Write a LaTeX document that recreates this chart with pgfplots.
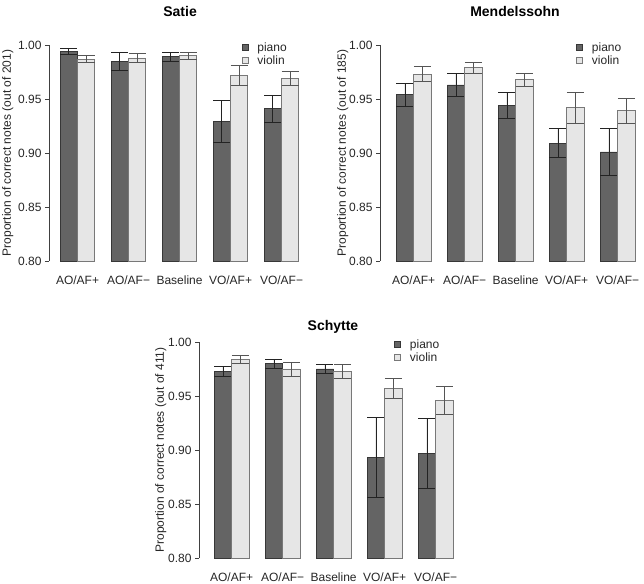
\documentclass[border=0pt]{standalone}
\usepackage{pgfplots}
\pgfplotsset{compat=1.18}
\usepackage{fontspec}
\setmainfont{Liberation Sans}
\definecolor{pianofill}{RGB}{100,100,100}
\definecolor{pianodraw}{RGB}{55,55,55}
\definecolor{violinfill}{RGB}{230,230,230}
\definecolor{violindraw}{RGB}{120,120,120}
\definecolor{pianoerr}{RGB}{35,35,35}
\definecolor{violinerr}{RGB}{85,85,85}
\pgfplotsset{
  panel/.style={
    scale only axis, height=216pt, ymin=0.8, ymax=1.0, xmax=4.45,
    ybar=0pt, bar width=0.34,
    axis y line=left, axis x line=bottom,
    axis line style={-},
    x axis line style={draw=none},
    y axis line style={draw=black!75},
    xtick={0,1,2,3,4},
    xticklabels={AO/AF+,AO/AF−,Baseline,VO/AF+,VO/AF−},
    xtick style={draw=none},
    xticklabel style={yshift=-7pt},
    ytick={0.80,0.85,0.90,0.95,1.00},
    yticklabel style={/pgf/number format/.cd,fixed,fixed zerofill,precision=2},
    /pgf/number format/assume math mode=true,
    tick align=outside, major tick length=4pt,
    ytick style={draw=black!75},
    tick label style={font=\fontsize{12}{14}\selectfont, text=black!85},
    label style={font=\fontsize{12}{14}\selectfont, text=black!85},
    title style={font=\fontsize{14}{16}\selectfont\bfseries, anchor=center},
    legend style={draw=none, fill=none, inner sep=0pt, anchor=north west,
      font=\fontsize{12}{13}\selectfont, text=black!85, row sep=-1pt,
      legend cell align=left},
    legend image code/.code={\draw[#1] (0pt,-2.5pt) rectangle (6pt,3.5pt); \path (0pt,0pt) (13pt,0pt);},
    clip=false,
  },
  pianobar/.style={fill=pianofill, draw=pianodraw, line width=0.8pt,
    error bars/.cd, y dir=both, y explicit,
    error bar style={draw=pianoerr, line width=0.8pt},
    error mark options={rotate=90, mark size=8.5pt, draw=pianoerr, line width=0.8pt}},
  violinbar/.style={fill=violinfill, draw=violindraw, line width=0.8pt,
    error bars/.cd, y dir=both, y explicit,
    error bar style={draw=violinerr, line width=0.8pt},
    error mark options={rotate=90, mark size=8.5pt, draw=violinerr, line width=0.8pt}},
}
\begin{document}
\begin{tikzpicture}[x=1pt,y=1pt]
\useasboundingbox (0,0) rectangle (644,583);
% Satie
\begin{axis}[panel, at={(49pt,322pt)}, anchor=south west,
  width=255.5pt, xmin=-0.56,
  title={Satie}, title style={at={(0.513,1.125)}},
  ylabel={Proportion of correct notes (out of 201)}, ylabel shift=-2pt,
  legend style={at={(0.753,1.02)}}]
\addplot[pianobar] coordinates {
  (0,0.994) +- (0,0.003)
  (1,0.985) +- (0,0.0085)
  (2,0.989) +- (0,0.004)
  (3,0.929) +- (0,0.0195)
  (4,0.941) +- (0,0.0125)};
\addplot[violinbar] coordinates {
  (0,0.987) +- (0,0.0035)
  (1,0.988) +- (0,0.004)
  (2,0.990) +- (0,0.003)
  (3,0.972) +- (0,0.0095)
  (4,0.969) +- (0,0.0068)};
\legend{piano,violin}
\end{axis}
% Mendelssohn
\begin{axis}[panel, at={(380pt,322pt)}, anchor=south west,
  width=260.6pt, xmin=-0.66,
  title={Mendelssohn}, title style={at={(0.518,1.125)}},
  ylabel={Proportion of correct notes (out of 185)}, ylabel shift=-6pt,
  legend style={at={(0.752,1.02)}}]
\addplot[pianobar] coordinates {
  (0,0.954) +- (0,0.0105)
  (1,0.963) +- (0,0.0105)
  (2,0.944) +- (0,0.012)
  (3,0.909) +- (0,0.0135)
  (4,0.901) +- (0,0.022)};
\addplot[violinbar] coordinates {
  (0,0.973) +- (0,0.007)
  (1,0.979) +- (0,0.005)
  (2,0.968) +- (0,0.006)
  (3,0.942) +- (0,0.0145)
  (4,0.939) +- (0,0.0115)};
\legend{piano,violin}
\end{axis}
% Schytte
\begin{axis}[panel, at={(199pt,25pt)}, anchor=south west,
  width=259.6pt, xmin=-0.64,
  title={Schytte}, title style={at={(0.516,1.042)}},
  ylabel={Proportion of correct notes (out of 411)}, ylabel shift=-5pt,
  legend style={at={(0.751,1.02)}}]
\addplot[pianobar] coordinates {
  (0,0.9725) +- (0,0.0045)
  (1,0.980) +- (0,0.004)
  (2,0.975) +- (0,0.004)
  (3,0.8935) +- (0,0.037)
  (4,0.897) +- (0,0.0325)};
\addplot[violinbar] coordinates {
  (0,0.984) +- (0,0.0038)
  (1,0.975) +- (0,0.0065)
  (2,0.973) +- (0,0.0065)
  (3,0.9567) +- (0,0.0093)
  (4,0.946) +- (0,0.0133)};
\legend{piano,violin}
\end{axis}
\end{tikzpicture}
\end{document}
